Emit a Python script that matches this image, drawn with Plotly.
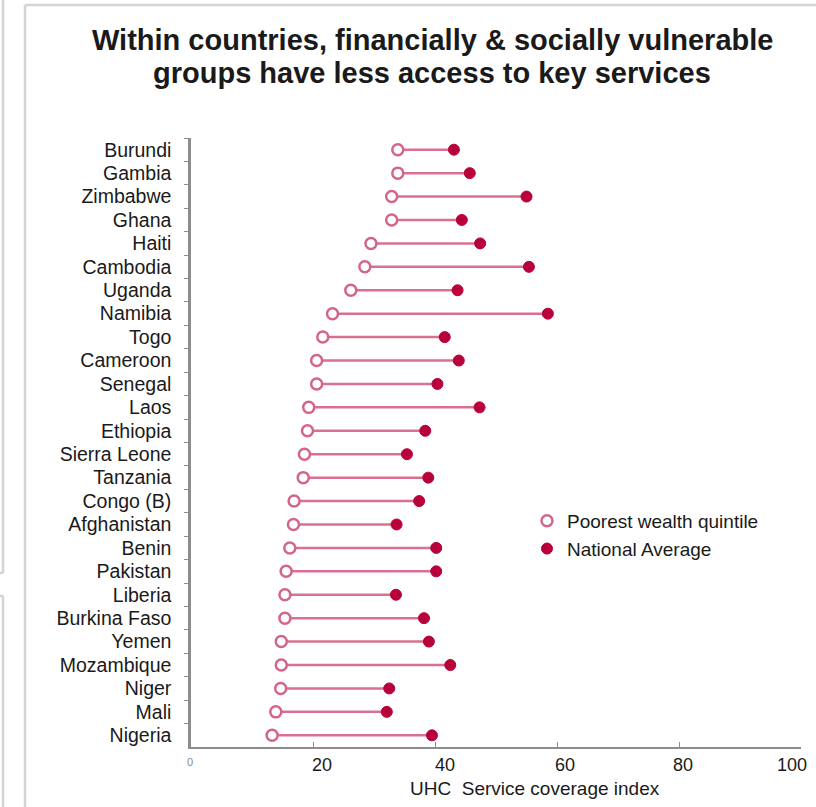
import plotly.graph_objects as go

countries = ["Burundi", "Gambia", "Zimbabwe", "Ghana", "Haiti", "Cambodia", "Uganda",
             "Namibia", "Togo", "Cameroon", "Senegal", "Laos", "Ethiopia", "Sierra Leone",
             "Tanzania", "Congo (B)", "Afghanistan", "Benin", "Pakistan", "Liberia",
             "Burkina Faso", "Yemen", "Mozambique", "Niger", "Mali", "Nigeria"]
poorest = [33.9, 33.9, 32.9, 32.9, 29.5, 28.5, 26.2, 23.2, 21.6, 20.6, 20.6, 19.3, 19.1,
           18.6, 18.4, 16.9, 16.8, 16.2, 15.6, 15.4, 15.4, 14.8, 14.8, 14.7, 13.9, 13.3]
national = [43.1, 45.7, 55.0, 44.4, 47.4, 55.4, 43.7, 58.5, 41.6, 43.9, 40.4, 47.3, 38.4,
            35.4, 38.9, 37.4, 33.7, 40.2, 40.2, 33.6, 38.2, 39.0, 42.5, 32.5, 32.1, 39.5]
x_ticks = [0, 20, 40, 60, 80, 100]
x_tick_text = ["0", "20", "40", "60", "80", "100"]
title_lines = ["Within countries, financially & socially vulnerable",
               "groups have less access to key services"]

# label placement style (pixel nudges seen in the original)
x_label_shift = [-1, 9, 10, 8, 4, -9]

LINE = "#d9708e"
POOR = "#d4648a"
NAT = "#b8003a"
FONT = "Liberation Sans, Arial, sans-serif"

W, H = 816, 807
L, R, T, B = 191, 15, 138, 60
PW, PH = W - L - R, H - T - B


def px_x(p):
    return (p - L) / PW


def px_y(p):
    return (H - B - p) / PH


seg_x, seg_y = [], []
for c, p, n in zip(countries, poorest, national):
    seg_x += [p, n, None]
    seg_y += [c, c, None]

fig = go.Figure()
fig.add_trace(go.Scatter(x=seg_x, y=seg_y, mode="lines",
                         line=dict(color=LINE, width=2.5), showlegend=False, hoverinfo="skip"))
fig.add_trace(go.Scatter(x=poorest, y=countries, mode="markers", name="Poorest wealth quintile",
                         marker=dict(symbol="circle", size=11, color="white",
                                     line=dict(color=POOR, width=2.5))))
fig.add_trace(go.Scatter(x=national, y=countries, mode="markers", name="National Average",
                         marker=dict(symbol="circle", size=11, color=NAT,
                                     line=dict(color=NAT, width=1))))

fig.update_layout(
    width=W, height=H,
    margin=dict(l=L, r=R, t=T, b=B),
    paper_bgcolor="white", plot_bgcolor="white",
    font=dict(family=FONT, size=18, color="#1a1a1a"),
    legend=dict(x=px_x(527), y=px_y(502), xanchor="left", yanchor="top",
                font=dict(family=FONT, size=19, color="#1a1a1a"),
                bgcolor="rgba(0,0,0,0)", itemwidth=30),
    showlegend=True,
)
fig.update_xaxes(range=[0, 100], tickvals=x_ticks, showticklabels=False,
                 showgrid=False, zeroline=False, showline=True, linecolor="#8c8c8c", linewidth=2,
                 ticks="inside", ticklen=5, tickcolor="#8c8c8c")
fig.update_yaxes(type="category", categoryorder="array", categoryarray=countries,
                 range=[len(countries) - 0.5, -0.5],
                 showgrid=False, zeroline=False, showline=True, linecolor="#8c8c8c", linewidth=2.5,
                 ticks="outside", ticklen=4, tickcolor="#8c8c8c", tickson="boundaries",
                 ticklabelstandoff=13,
                 tickfont=dict(family=FONT, size=19.5, color="#1a1a1a"))

# x tick labels, placed on the x scale
for v, t, s in zip(x_ticks, x_tick_text, x_label_shift):
    small = (v == 0)
    fig.add_annotation(text=t, xref="x", yref="paper", x=v, y=px_y(762 if small else 765),
                       xanchor="center", yanchor="middle", xshift=s, showarrow=False,
                       font=dict(family=FONT, size=11 if small else 18,
                                 color="#7f8aa0" if small else "#1a1a1a"))

for line_text, yc in zip(title_lines, [40, 73]):
    fig.add_annotation(text="<b>" + line_text + "</b>", xref="paper", yref="paper",
                       x=px_x(432), y=px_y(yc), xanchor="center", yanchor="middle",
                       showarrow=False, font=dict(family=FONT, size=29, color="#1a1a1a"))

fig.add_annotation(text="UHC  Service coverage index", xref="paper", yref="paper",
                   x=px_x(535), y=px_y(788), xanchor="center", yanchor="middle", showarrow=False,
                   font=dict(family=FONT, size=19, color="#1a1a1a"))

# light panel borders
for x0, y0, x1, y1 in [(25, 5, 25, H), (25, 5, W, 5), (3, 0, 3, 573), (0, 573, 3, 573),
                       (3, 596, 3, H), (0, 596, 3, 596)]:
    fig.add_shape(type="line", xref="paper", yref="paper",
                  x0=px_x(x0), x1=px_x(x1), y0=px_y(y0), y1=px_y(y1),
                  line=dict(color="#d4d4d4", width=2.5), layer="below")

fig.write_html("out.html", config={"displayModeBar": False},
               post_script="document.body.style.margin='0';")
